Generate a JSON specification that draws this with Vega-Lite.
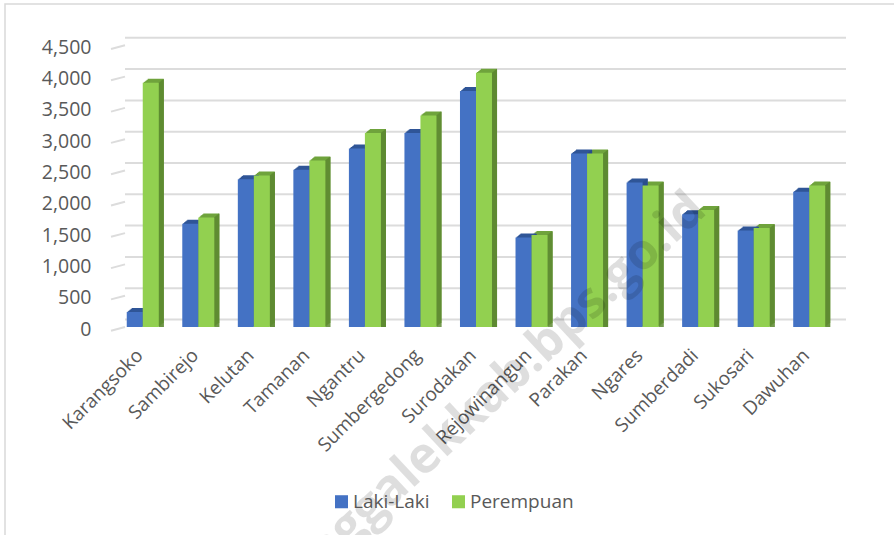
{"$schema":"https://vega.github.io/schema/vega-lite/v6.json","width":900,"height":540,"autosize":"none","padding":{"left":5,"top":4,"right":0,"bottom":0},"background":"white","view":{"stroke":"#d9d9d9","strokeWidth":1.5,"fill":"white"},"config":{"font":"Open Sans"},
"datasets":{"pop":[
{"desa":"Karangsoko","series":"Laki-Laki","jumlah":240},{"desa":"Karangsoko","series":"Perempuan","jumlah":3900},
{"desa":"Sambirejo","series":"Laki-Laki","jumlah":1650},{"desa":"Sambirejo","series":"Perempuan","jumlah":1750},
{"desa":"Kelutan","series":"Laki-Laki","jumlah":2360},{"desa":"Kelutan","series":"Perempuan","jumlah":2420},
{"desa":"Tamanan","series":"Laki-Laki","jumlah":2510},{"desa":"Tamanan","series":"Perempuan","jumlah":2660},
{"desa":"Ngantru","series":"Laki-Laki","jumlah":2850},{"desa":"Ngantru","series":"Perempuan","jumlah":3100},
{"desa":"Sumbergedong","series":"Laki-Laki","jumlah":3100},{"desa":"Sumbergedong","series":"Perempuan","jumlah":3380},
{"desa":"Surodakan","series":"Laki-Laki","jumlah":3770},{"desa":"Surodakan","series":"Perempuan","jumlah":4060},
{"desa":"Rejowinangun","series":"Laki-Laki","jumlah":1430},{"desa":"Rejowinangun","series":"Perempuan","jumlah":1470},
{"desa":"Parakan","series":"Laki-Laki","jumlah":2770},{"desa":"Parakan","series":"Perempuan","jumlah":2770},
{"desa":"Ngares","series":"Laki-Laki","jumlah":2310},{"desa":"Ngares","series":"Perempuan","jumlah":2260},
{"desa":"Sumberdadi","series":"Laki-Laki","jumlah":1800},{"desa":"Sumberdadi","series":"Perempuan","jumlah":1870},
{"desa":"Sukosari","series":"Laki-Laki","jumlah":1540},{"desa":"Sukosari","series":"Perempuan","jumlah":1580},
{"desa":"Dawuhan","series":"Laki-Laki","jumlah":2160},{"desa":"Dawuhan","series":"Perempuan","jumlah":2260}],
"grid":[{"tick":0,"lower":-179,"a":0,"b":1,"c":-0.0194},{"tick":500,"lower":321,"a":0,"b":1,"c":-0.0194},{"tick":1000,"lower":821,"a":0,"b":1,"c":-0.0194},{"tick":1500,"lower":1321,"a":0,"b":1,"c":-0.0194},{"tick":2000,"lower":1821,"a":0,"b":1,"c":-0.0194},{"tick":2500,"lower":2321,"a":0,"b":1,"c":-0.0194},{"tick":3000,"lower":2821,"a":0,"b":1,"c":-0.0194},{"tick":3500,"lower":3321,"a":0,"b":1,"c":-0.0194},{"tick":4000,"lower":3821,"a":0,"b":1,"c":-0.0194},{"tick":4500,"lower":4321,"a":0,"b":1,"c":-0.0194}],
"mark":[{"teks":"trenggalekkab.bps.go.id","desa":"Sumberdadi","v":2000}]},
"resolve":{"scale":{"x":"independent"},"axis":{"x":"independent","y":"independent"}},
"layer":[
{"data":{"name":"grid"},"layer":[
{"mark":{"type":"rule","stroke":"#dcdcdc","strokeWidth":2,"yOffset":-7.5},"encoding":{"x":{"field":"a","type":"quantitative","axis":null,"scale":{"domain":[0,1],"range":[120,841],"zero":false,"nice":false}},"x2":{"field":"b"},"y":{"field":"tick","type":"quantitative","axis":null,"scale":{"domain":[0,4500],"range":[323,41.3],"nice":false,"clamp":false}}}},
{"mark":{"type":"rule","stroke":"#dcdcdc","strokeWidth":2,"yOffset":-7.5},"encoding":{"x":{"field":"c","type":"quantitative","axis":null,"scale":{"domain":[0,1],"range":[120,841],"zero":false,"nice":false}},"x2":{"field":"a"},"y":{"field":"lower","type":"quantitative","axis":null,"scale":{"domain":[0,4500],"range":[323,41.3],"nice":false}},"y2":{"field":"tick"}}}
]},
{"data":{"name":"pop"},
"resolve":{"scale":{"xOffset":"independent"}},
"encoding":{
"x":{"field":"desa","type":"nominal","sort":null,"title":null,"scale":{"range":[110,832],"paddingInner":0.423,"paddingOuter":0.2115},"axis":{"orient":"bottom","offset":-217,"domain":false,"ticks":false,"labelAngle":-45,"labelAlign":"right","labelBaseline":"middle","labelPadding":25,"labelOffset":-3,"labelFontSize":19,"labelColor":"#595959","labelFont":"Open Sans","labelLimit":300,"labelOverlap":false}},
"y":{"field":"jumlah","type":"quantitative","title":null,"scale":{"domain":[0,4500],"range":[323,41.3],"nice":false},"axis":{"orient":"left","offset":-88,"domain":false,"ticks":false,"grid":false,"labelPadding":2,"labelOffset":2,"values":[0,500,1000,1500,2000,2500,3000,3500,4000,4500],"format":",.0f","labelFontSize":19.5,"labelColor":"#595959","labelFont":"Open Sans"}}
},
"layer":[
{"mark":{"type":"bar","yOffset":-0.8},"encoding":{"xOffset":{"field":"series","type":"nominal","scale":{"domain":["Laki-Laki","Perempuan"],"range":[1,33],"padding":0}},"fill":{"condition":{"test":"datum.series==='Laki-Laki'","value":"#2f5597"},"value":"#6fa33c"}}},
{"mark":{"type":"bar","yOffset":-1.6},"encoding":{"xOffset":{"field":"series","type":"nominal","scale":{"domain":["Laki-Laki","Perempuan"],"range":[2,34],"padding":0}},"fill":{"condition":{"test":"datum.series==='Laki-Laki'","value":"#2f5597"},"value":"#6fa33c"}}},
{"mark":{"type":"bar","yOffset":-2.4},"encoding":{"xOffset":{"field":"series","type":"nominal","scale":{"domain":["Laki-Laki","Perempuan"],"range":[3,35],"padding":0}},"fill":{"condition":{"test":"datum.series==='Laki-Laki'","value":"#2f5597"},"value":"#6fa33c"}}},
{"mark":{"type":"bar","yOffset":-3.2},"encoding":{"xOffset":{"field":"series","type":"nominal","scale":{"domain":["Laki-Laki","Perempuan"],"range":[4,36],"padding":0}},"fill":{"condition":{"test":"datum.series==='Laki-Laki'","value":"#2f5597"},"value":"#6fa33c"}}},
{"mark":{"type":"bar","yOffset":-4},"encoding":{"xOffset":{"field":"series","type":"nominal","scale":{"domain":["Laki-Laki","Perempuan"],"range":[5,37],"padding":0}},"fill":{"condition":{"test":"datum.series==='Laki-Laki'","value":"#2f5597"},"value":"#6fa33c"}}},
{"mark":{"type":"rule","strokeWidth":1.2,"yOffset":-0.4},"encoding":{"xOffset":{"field":"series","type":"nominal","scale":{"domain":["Laki-Laki","Perempuan"],"range":[8.5,40.5],"padding":0}},"y2":{"datum":0},"stroke":{"condition":{"test":"datum.series==='Laki-Laki'","value":"#2a4d8a"},"value":"#5e8a32"}}},
{"mark":{"type":"rule","strokeWidth":1.2,"yOffset":-1.2},"encoding":{"xOffset":{"field":"series","type":"nominal","scale":{"domain":["Laki-Laki","Perempuan"],"range":[9.5,41.5],"padding":0}},"y2":{"datum":0},"stroke":{"condition":{"test":"datum.series==='Laki-Laki'","value":"#2a4d8a"},"value":"#5e8a32"}}},
{"mark":{"type":"rule","strokeWidth":1.2,"yOffset":-2},"encoding":{"xOffset":{"field":"series","type":"nominal","scale":{"domain":["Laki-Laki","Perempuan"],"range":[10.5,42.5],"padding":0}},"y2":{"datum":0},"stroke":{"condition":{"test":"datum.series==='Laki-Laki'","value":"#2a4d8a"},"value":"#5e8a32"}}},
{"mark":{"type":"rule","strokeWidth":1.2,"yOffset":-2.8},"encoding":{"xOffset":{"field":"series","type":"nominal","scale":{"domain":["Laki-Laki","Perempuan"],"range":[11.5,43.5],"padding":0}},"y2":{"datum":0},"stroke":{"condition":{"test":"datum.series==='Laki-Laki'","value":"#2a4d8a"},"value":"#5e8a32"}}},
{"mark":{"type":"rule","strokeWidth":1.2,"yOffset":-3.6},"encoding":{"xOffset":{"field":"series","type":"nominal","scale":{"domain":["Laki-Laki","Perempuan"],"range":[12.5,44.5],"padding":0}},"y2":{"datum":0},"stroke":{"condition":{"test":"datum.series==='Laki-Laki'","value":"#2a4d8a"},"value":"#5e8a32"}}},
{"mark":{"type":"bar"},"encoding":{"xOffset":{"field":"series","type":"nominal","scale":{"domain":["Laki-Laki","Perempuan"],"range":[0,32],"padding":0}},"fill":{"field":"series","type":"nominal","title":null,"scale":{"domain":["Laki-Laki","Perempuan"],"range":["#4472c4","#92d050"]},"legend":{"orient":"none","legendX":327,"legendY":488,"direction":"horizontal","symbolType":"square","symbolSize":170,"symbolStrokeWidth":0,"labelFontSize":19,"labelColor":"#595959","labelFont":"Open Sans","columnPadding":19,"labelOffset":2}}}}
]},
{"data":{"name":"mark"},"mark":{"type":"text","font":"Open Sans","fontWeight":"bold","fontSize":50,"angle":-43,"align":"right","baseline":"middle","fill":"#000000","fillOpacity":0.13},"encoding":{"text":{"field":"teks"},"x":{"field":"desa","type":"nominal","sort":null,"axis":null,"scale":{"domain":["Karangsoko","Sambirejo","Kelutan","Tamanan","Ngantru","Sumbergedong","Surodakan","Rejowinangun","Parakan","Ngares","Sumberdadi","Sukosari","Dawuhan"],"range":[110,832],"paddingInner":0.423,"paddingOuter":0.2115}},"y":{"field":"v","type":"quantitative","axis":null,"scale":{"domain":[0,4500],"range":[323,41.3],"nice":false}}}}
]}
